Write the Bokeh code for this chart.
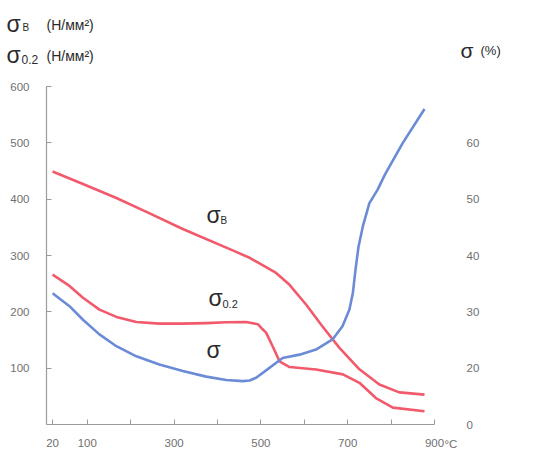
from bokeh.plotting import figure
from bokeh.models import Range1d, LinearAxis, FixedTicker, Label
from bokeh.layouts import column
from bokeh.embed import file_html
from bokeh.resources import INLINE

# Temperature (°C) and values
t_sb = [20, 90, 167, 240, 320, 435, 474, 535, 566, 604, 642, 681, 727, 773, 819, 877]
sigma_b = [449, 427, 402, 376, 347, 309, 296, 269, 248, 213, 174, 136, 98, 71, 57, 53]

t_s02 = [20, 59, 90, 128, 167, 213, 266, 320, 374, 420, 466, 493, 504, 512, 527, 543, 566,
         627, 689, 727, 765, 804, 877]
sigma_02 = [266, 246, 225, 204, 191, 182, 179, 179, 180, 181.5, 182, 178, 169, 163, 139, 112, 102,
            97.6, 89, 74, 47, 30, 23.6]

t_el = [20, 59, 90, 128, 167, 213, 266, 320, 374, 420, 458, 474, 489, 512, 550, 589, 627, 665,
        688, 704, 712, 718, 725, 735, 750, 769, 786, 827, 877]
elong = [33.3, 31.0, 28.6, 26.0, 23.9, 22.1, 20.65, 19.5, 18.5, 17.9, 17.7, 17.8, 18.3, 19.6, 21.8,
         22.4, 23.3, 25.1, 27.45, 30.4, 33.4, 37.5, 41.6, 45.2, 49.3, 51.7, 54.4, 60.0, 66.0]

x_ticks = [20, 100, 200, 300, 400, 500, 600, 700, 800, 900]
x_tick_labels = {20: "20", 100: "100", 200: "", 300: "300", 400: "", 500: "500",
                 600: "", 700: "700", 800: "", 900: "900"}
left_ticks = [100, 200, 300, 400, 500, 600]
right_ticks = [10, 20, 30, 40, 50, 60]
right_tick_labels = {10: "0", 20: "20", 30: "30", 40: "40", 50: "50", 60: "60"}

RED = "#f25a6c"
BLUE = "#6b8bd6"
AX = "#9a9a9a"
LBL = "#707070"
TXT = "#2a2a2a"
FONT = "Liberation Sans"

W, H = 523, 453
HEAD_H = 76
BL, BR = 46, 89            # left / right borders shared by both strips
FL, FR, FT, FB = 47.0, 435.0, 87.0, 425.0   # frame edges in page pixels

# ---------------- header strip (frame aligned with the chart below) ----------------
head = figure(width=W, height=HEAD_H, output_backend="svg", toolbar_location=None,
              x_range=Range1d(FL, FR), y_range=Range1d(0, HEAD_H),
              x_axis_location=None, y_axis_location=None,
              min_border_left=BL, min_border_right=BR, min_border_top=0, min_border_bottom=0)
head.outline_line_color = None
head.xgrid.visible = False
head.ygrid.visible = False

def htxt(s, px, py, size, place=None, color=TXT):
    lab = Label(x=px, y=HEAD_H + 1 - py, text=s, text_font=FONT,
                text_font_size=size, text_color=color,
                text_align="left", text_baseline="alphabetic")
    if place is None:
        head.add_layout(lab)
    else:
        head.add_layout(lab, place)

htxt("σ", 7, 24, "23px", "left")
htxt("σ", 7, 55, "23px", "left")
htxt("В", 23, 28, "10px", "right")
htxt("0.2", 22, 60, "12px", "right")
htxt("(Н/мм²)", 47, 25, "14px")
htxt("(Н/мм²)", 47, 56, "14px")
htxt("σ", 461, 51, "21px", "right")
htxt("(%)", 481, 51, "13px", "right")

# ---------------- main chart ----------------
X0, X1 = 6, 900
p = figure(width=W, height=H - HEAD_H, output_backend="svg", toolbar_location=None,
           x_range=Range1d(X0, X1), y_range=Range1d(0, 600),
           min_border_left=BL, min_border_right=BR, min_border_top=10, min_border_bottom=29)
p.outline_line_color = None
p.xgrid.visible = False
p.ygrid.visible = False

p.extra_y_ranges = {"pct": Range1d(10, 70)}

for ax in (p.xaxis[0], p.yaxis[0]):
    ax.axis_line_color = AX
    ax.axis_line_width = 1.2
    ax.major_tick_line_color = AX
    ax.major_tick_in = 5
    ax.major_tick_out = 0
    ax.minor_tick_line_color = None
    ax.major_label_text_color = LBL
    ax.major_label_text_font = FONT
    ax.major_label_text_font_size = "11.5px"

p.xaxis[0].ticker = FixedTicker(ticks=x_ticks)
p.xaxis[0].major_label_overrides = x_tick_labels
p.xaxis[0].major_label_standoff = 14
p.yaxis[0].ticker = FixedTicker(ticks=left_ticks)
p.yaxis[0].major_label_standoff = 17

r_ax = LinearAxis(y_range_name="pct", ticker=FixedTicker(ticks=right_ticks))
r_ax.major_label_overrides = right_tick_labels
r_ax.axis_line_color = None
r_ax.major_tick_line_color = None
r_ax.major_tick_in = 0
r_ax.major_tick_out = 0
r_ax.minor_tick_line_color = None
r_ax.major_label_standoff = 32
r_ax.major_label_text_color = LBL
r_ax.major_label_text_font = FONT
r_ax.major_label_text_font_size = "11.5px"
p.add_layout(r_ax, "right")

p.line(t_sb, sigma_b, line_color=RED, line_width=2.6, line_join="round")
p.line(t_s02, sigma_02, line_color=RED, line_width=2.6, line_join="round")
p.line(t_el, elong, line_color=BLUE, line_width=2.6, line_join="round", y_range_name="pct")

# page pixel -> data helpers for placing text
def dx(px):
    return X0 + (px - FL) * (X1 - X0) / (FR - FL)
def dy(py):
    return (FB - py) * 600 / (FB - FT)

def txt(s, px, py, size, color=TXT, place=None):
    lab = Label(x=dx(px), y=dy(py), text=s, text_font=FONT,
                text_font_size=size, text_color=color,
                text_align="left", text_baseline="alphabetic")
    if place is None:
        p.add_layout(lab)
    else:
        p.add_layout(lab, place)

# curve labels
txt("σ", 207, 215, "23px")
txt("В", 221, 221, "10px")
txt("σ", 209, 298, "23px")
txt("0.2", 223, 304, "11px")
txt("σ", 207, 350, "23px")
# unit of the temperature axis
txt("°C", 445, 444, "11.5px", LBL, "right")

open("out.html", "w").write(file_html(column(head, p), INLINE))
